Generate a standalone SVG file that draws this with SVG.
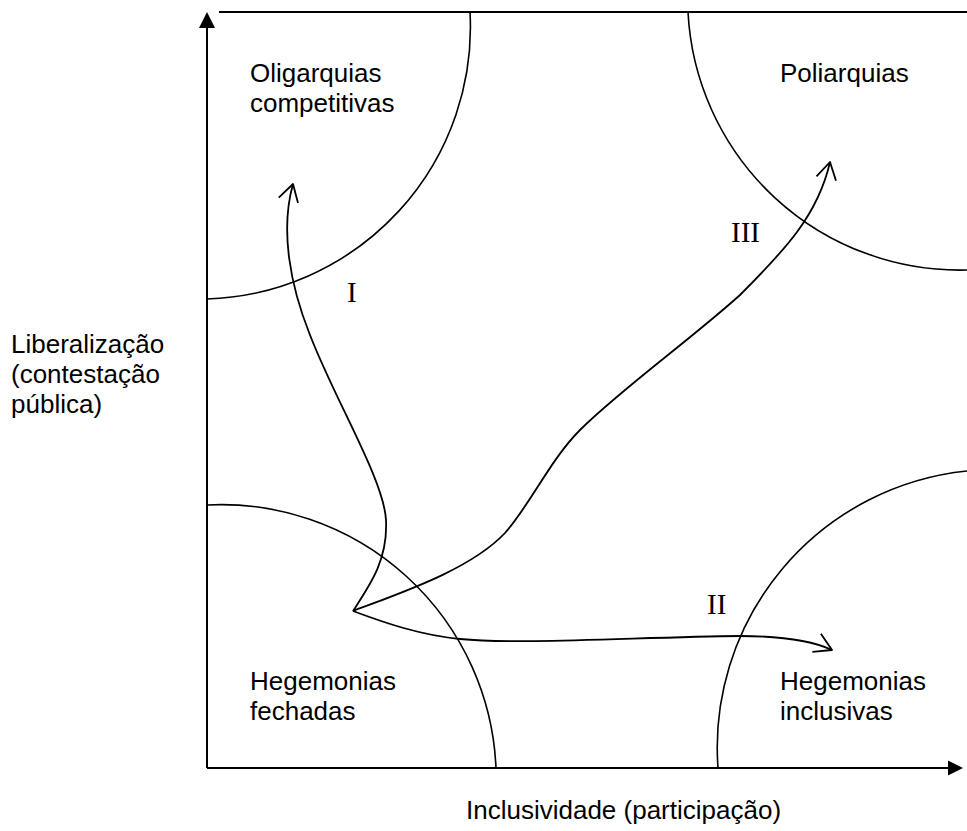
<svg xmlns="http://www.w3.org/2000/svg" width="967" height="831" viewBox="0 0 967 831">
<style>
.lbl{font-family:"Liberation Sans",Arial,sans-serif;font-size:26px;fill:#000}
.num{font-family:"Liberation Serif","Times New Roman",serif;font-size:29px;fill:#000}
.arc{fill:none;stroke:#000;stroke-width:1.6}
.ax{fill:none;stroke:#000;stroke-width:2}
.con{fill:none;stroke:#000;stroke-width:1.8;marker-end:url(#open)}
</style>
<defs>
<marker id="open" markerUnits="userSpaceOnUse" viewBox="-20 -15 25 30" markerWidth="25" markerHeight="30" refX="0" refY="0" orient="auto">
<path d="M-17,-10 L0,0 L-17,10" fill="none" stroke="#000" stroke-width="1.8" stroke-linejoin="round"/>
</marker>
</defs>
<rect width="967" height="831" fill="#fff"/>
<g id="axes">
<line class="ax" x1="207" y1="768" x2="207" y2="26"/>
<polygon points="207,12 199,28 215,28" fill="#000"/>
<line class="ax" x1="207" y1="768" x2="950" y2="768"/>
<polygon points="963,768 948,760.5 948,775.5" fill="#000"/>
<line class="ax" x1="219" y1="12" x2="967" y2="12"/>
<text class="lbl" x="11" y="353">Liberalização</text>
<text class="lbl" x="11" y="383">(contestação</text>
<text class="lbl" x="11" y="413">pública)</text>
<text class="lbl" x="466" y="819">Inclusividade (participação)</text>
</g>
<g id="oligarquias">
<path class="arc" d="M470,12 A272,272 0 0 1 207,299"/>
<text class="lbl" x="250" y="82">Oligarquias</text>
<text class="lbl" x="250" y="112">competitivas</text>
</g>
<g id="poliarquias">
<path class="arc" d="M688,12 A272,272 0 0 0 967,270"/>
<text class="lbl" x="780" y="82">Poliarquias</text>
</g>
<g id="hegemonias-fechadas">
<path class="arc" d="M207,505 A275,275 0 0 1 496,768"/>
<text class="lbl" x="250" y="690">Hegemonias</text>
<text class="lbl" x="250" y="720">fechadas</text>
</g>
<g id="hegemonias-inclusivas">
<path class="arc" d="M967,471 A278,278 0 0 0 718,768"/>
<text class="lbl" x="780" y="690">Hegemonias</text>
<text class="lbl" x="780" y="720">inclusivas</text>
</g>
<g id="connectors">
<path class="con" d="M353,611 C370,585 388,560 386,520 C384,480 335,400 310,335 C290,285 280,230 293,184"/>
<path class="con" d="M353,611 C400,593 470,570 505,533 C530,505 550,460 580,430 C620,390 690,340 740,295 C785,250 818,215 830,162"/>
<path class="con" d="M353,611 C385,623 420,635 460,639 C520,645 640,637 740,636 C785,636 815,642 832,650"/>
<text class="num" x="347" y="302">I</text>
<text class="num" x="731" y="242">III</text>
<text class="num" x="707" y="614">II</text>
</g>
</svg>
